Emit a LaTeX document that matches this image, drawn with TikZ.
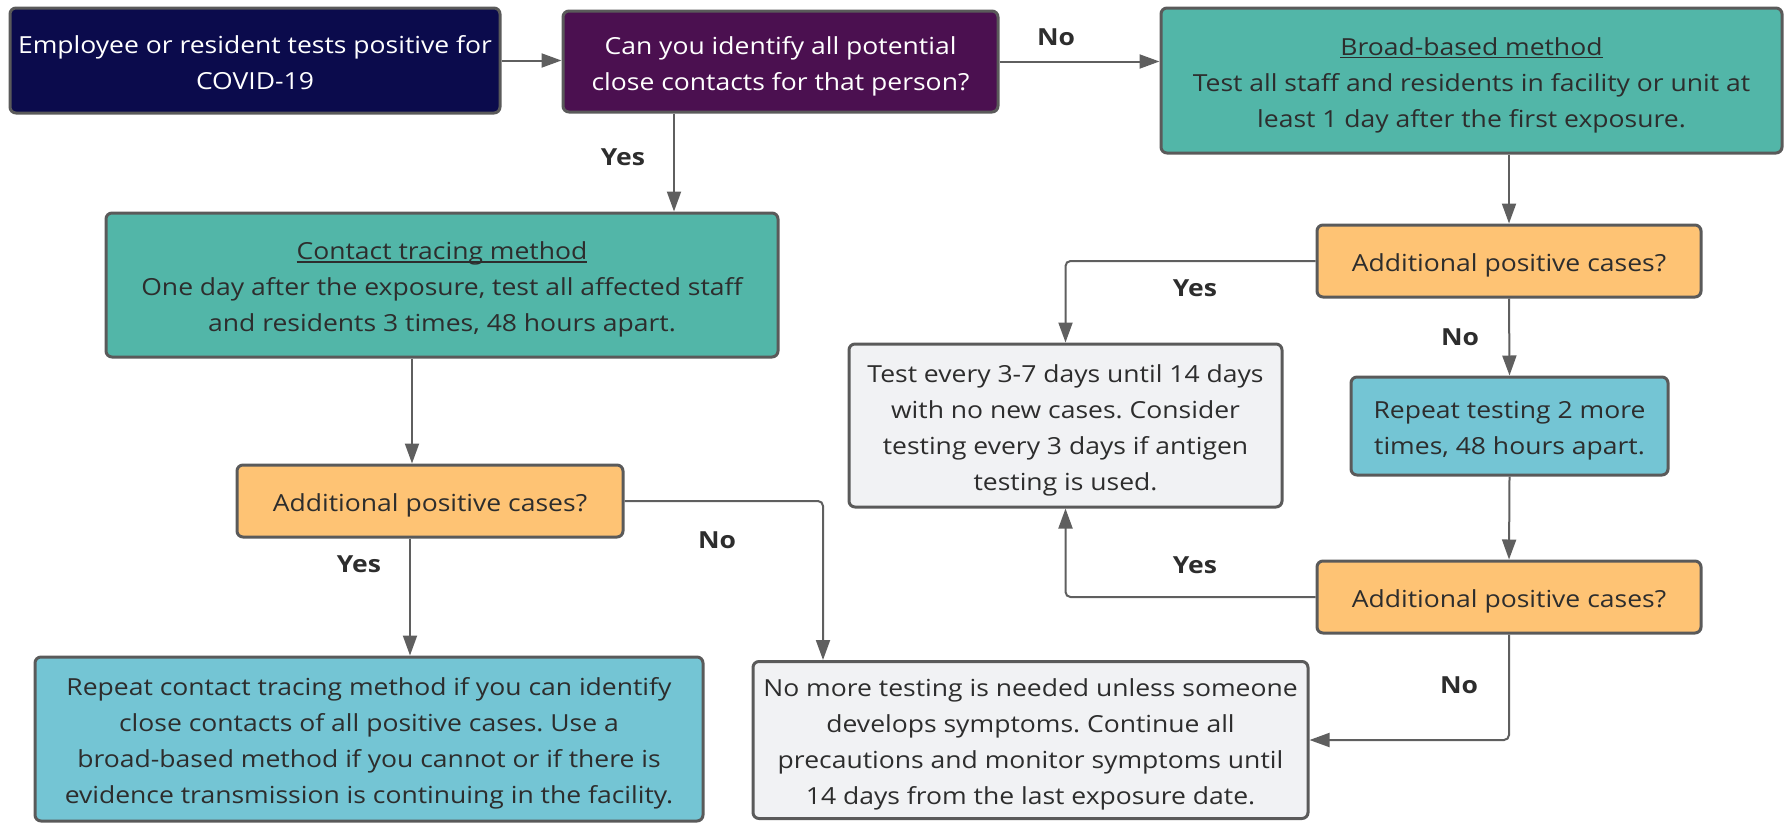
\documentclass[tikz,border=0pt]{standalone}
\usepackage{fontspec}
\setmainfont{Open Sans}[FakeStretch=1.128]
\usetikzlibrary{arrows.meta,calc}
\definecolor{navy}{RGB}{11,11,76}
\definecolor{plum}{RGB}{75,16,80}
\definecolor{teal}{RGB}{82,182,168}
\definecolor{apricot}{RGB}{254,195,116}
\definecolor{skyb}{RGB}{116,197,212}
\definecolor{pale}{RGB}{241,242,244}
\definecolor{edge}{RGB}{90,90,90}
\definecolor{txt}{RGB}{45,45,45}
\definecolor{conn}{RGB}{95,95,95}
\newcommand\lst{\rule[-7.5pt]{0pt}{36pt}}
\newcommand\myul[1]{\setbox0\hbox{#1}\rlap{\rule[-3pt]{\wd0}{1.4pt}}\box0}
\tikzset{
  box/.style={draw=edge,line width=3pt,rounded corners=6pt,align=center,inner sep=0pt,text=txt,
    font=\frenchspacing\fontsize{23.5}{36}\selectfont},
  conn/.style={draw=conn,line width=2pt,rounded corners=5pt,-{Triangle[length=20pt,width=14pt]}},
  lbl/.style={font=\fontsize{23.5}{28}\selectfont\bfseries,text=txt},
}
\begin{document}
\begin{tikzpicture}[x=1pt,y=-1pt]
\lineskiplimit=-50pt\relax
\useasboundingbox (0,0) rectangle (1784,822);
\node[box,fill=navy,text=white,minimum width=490pt,minimum height=105pt] (b1) at (255,60.5)
  {\lst Employee or resident tests positive for\\\lst COVID-19};
\node[box,fill=plum,text=white,minimum width=435pt,minimum height=101pt] (b2) at (780.5,61.5)
  {\lst Can you identify all potential\\\lst close contacts for that person?};
\node[box,fill=teal,minimum width=621pt,minimum height=145pt] (b3) at (1471.5,80.5)
  {\lst\myul{Broad-based method}\\\lst Test all staff and residents in facility or unit at\\\lst least 1 day after the first exposure.};
\node[box,fill=teal,minimum width=672pt,minimum height=144pt] (b4) at (442,285)
  {\lst\myul{Contact tracing method}\\\lst One day after the exposure, test all affected staff\\\lst and residents 3 times, 48 hours apart.};
\node[box,fill=apricot,minimum width=386pt,minimum height=72pt] (b5) at (430,501)
  {\lst Additional positive cases?};
\node[box,fill=skyb,minimum width=668pt,minimum height=164pt] (b6) at (369,739)
  {\lst Repeat contact tracing method if you can identify\\\lst close contacts of all positive cases. Use a\\\lst broad-based method if you cannot or if there is\\\lst evidence transmission is continuing in the facility.};
\node[box,fill=pale,minimum width=555pt,minimum height=157pt] (b7) at (1030.5,740)
  {\lst No more testing is needed unless someone\\\lst develops symptoms. Continue all\\\lst precautions and monitor symptoms until\\\lst 14 days from the last exposure date.};
\node[box,fill=apricot,minimum width=384pt,minimum height=72pt] (b8) at (1509,261)
  {\lst Additional positive cases?};
\node[box,fill=pale,minimum width=433pt,minimum height=163pt] (b9) at (1065.5,425.5)
  {\lst Test every 3-7 days until 14 days\\\lst with no new cases. Consider\\\lst testing every 3 days if antigen\\\lst testing is used.};
\node[box,fill=skyb,minimum width=317pt,minimum height=98pt] (b10) at (1509.5,426)
  {\lst Repeat testing 2 more\\\lst times, 48 hours apart.};
\node[box,fill=apricot,minimum width=384pt,minimum height=72pt] (b11) at (1509,597)
  {\lst Additional positive cases?};

\draw[conn] (b1.east) -- (b1.east -| b2.west);
\draw[conn] (b2.east) -- (b2.east -| b3.west);
\draw[conn] ([xshift=-106.5pt]b2.south) -- ([xshift=-106.5pt]b2.south |- b4.north);
\draw[conn] (b8.north |- b3.south) -- (b8.north);
\draw[conn] ([xshift=-18pt]b5.north |- b4.south) -- ([xshift=-18pt]b5.north);
\draw[conn] ([xshift=-20pt]b5.south) -- ([xshift=-20pt]b5.south |- b6.north);
\draw[conn] (b5.east) -| ([xshift=-207.5pt]b7.north);
\draw[conn] (b8.west) -| (b9.north);
\draw[conn] (b8.south) -- (b10.north);
\draw[conn] (b10.south) -- (b11.north);
\draw[conn] (b11.west) -| (b9.south);
\draw[conn] (b11.south) |- (b7.east);

\node[lbl] (l1) at (1056,37) {No};
\node[lbl] (l2) at (623,157) {Yes};
\node[lbl] (l3) at (359,564) {Yes};
\node[lbl] (l4) at (717,540) {No};
\node[lbl] (l5) at (1195,288) {Yes};
\node[lbl] (l6) at (1460,337) {No};
\node[lbl] (l7) at (1195,565) {Yes};
\node[lbl] (l8) at (1459,685) {No};
\end{tikzpicture}
\end{document}
